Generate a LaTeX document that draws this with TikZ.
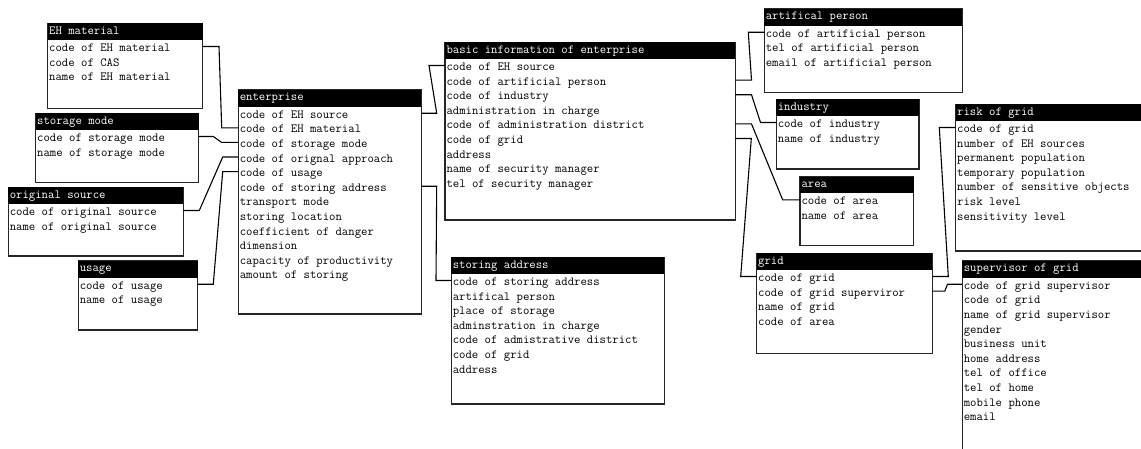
\documentclass[tikz,border=0pt]{standalone}
\usepackage{fontspec}
\usetikzlibrary{calc}
\tikzset{
  ebox/.style={draw=black!85, line width=1.2pt, anchor=north west, inner sep=0pt, outer sep=0pt, fill=white},
  ehead/.style={fill=black, anchor=north west, minimum height=16.5pt, inner sep=0pt, outer sep=0pt},
  etxt/.style={font=\fontsize{12.4}{14}\selectfont\ttfamily\addfontfeatures{FakeBold=0.5}, inner sep=0pt, outer sep=0pt, anchor=west, text height=8pt, text depth=2pt},
  etitle/.style={etxt, text=white},
  erow/.style={etxt, text=black},
  conn/.style={draw=black, line width=1.1pt}
}
\newcommand\entity[7]{%
  \node[ebox, minimum width=#4pt, minimum height=#5pt] (#1) at (#2,#3) {};
  \node[ehead, minimum width=#4pt] (#1-h) at (#1.north west) {};
  \node[etitle] (#1-t) at ([xshift=1.5pt,yshift=0.5pt]#1-h.west) {#6};
  \foreach \r [count=\i] in {#7} {%
    \node[erow] (#1-\i) at ($(#1.north west)+(1.5,25.2+14.6*\i-14.6)$) {\r};
    \coordinate (#1-c\i) at ($(#1-\i.west)+(0,-2)$);}%
}
\begin{document}
\begin{tikzpicture}[x=1pt,y=-1pt]
\useasboundingbox (0,0) rectangle (1141,448);
\fill[white] (0,0) rectangle (1141,448);
\clip (0,0) rectangle (1141,448);

\entity{ehm}{47.7}{23.3}{155}{85}{EH material}{code of EH material,code of CAS,name of EH material}
\entity{sm}{35.7}{113.3}{163}{69}{storage mode}{code of storage mode,name of storage mode}
\entity{os}{8.3}{187.3}{175}{68.7}{original source}{code of original source,name of original source}
\entity{us}{78.3}{261}{119.4}{69}{usage}{code of usage,name of usage}
\entity{ent}{238.3}{90}{183}{224}{enterprise}{code of EH source,code of EH material,code of storage mode,code of orignal approach,code of usage,code of storing address,transport mode,storing location,coefficient of danger,dimension,capacity of productivity,amount of storing}
\entity{bas}{445}{42.3}{290.3}{177.7}{basic information of enterprise}{code of EH source,code of artificial person,code of industry,administration in charge,code of administration district,code of grid,address,name of security manager,tel of security manager}
\entity{sa}{451.3}{257.3}{213}{146.7}{storing address}{code of storing address,artifical person,place of storage,adminstration in charge,code of admistrative district,code of grid,address}
\entity{ap}{764.3}{9}{198}{83.7}{artifical person}{code of artificial person,tel of artificial person,email of artificial person}
\entity{ind}{776.3}{99.3}{142.7}{69.7}{industry}{code of industry,name of industry}
\entity{area}{800}{176.7}{113.7}{69}{area}{code of area,name of area}
\entity{grid}{756.7}{253.3}{175.6}{100}{grid}{code of grid,code of grid superviror,name of grid,code of area}
\entity{risk}{955.7}{104.3}{200}{146.7}{risk of grid}{code of grid,number of EH sources,permanent population,temporary population,number of sensitive objects,risk level,sensitivity level}
\entity{sup}{962.3}{261}{200}{200}{supervisor of grid}{code of grid supervisor,code of grid,name of grid supervisor,gender,business unit,home address,tel of office,tel of home,mobile phone,email}

% left side connectors
\draw[conn] (ehm.east |- ehm-c1) -- ++(16.3,0) -- ($(ent.west |- ent-c2)+(-16.6,0)$) -- (ent.west |- ent-c2);
\draw[conn] (sm.east |- sm-c1) -- ++(14.6,0) -- ($(ent.west |- ent-c3)+(-16.6,0)$) -- (ent.west |- ent-c3);
\draw[conn] (os.east |- os-c1) -- ++(16,0) -- ($(ent.west |- ent-c4)+(-15.6,0)$) -- (ent.west |- ent-c4);
\draw[conn] (us.east |- us-c1) -- ++(15.6,0) -- ($(ent.west |- ent-c5)+(-15.6,0)$) -- (ent.west |- ent-c5);
% enterprise right
\draw[conn] (ent.east |- ent-c1) -- ++(15.4,0) -- ($(bas.west |- bas-c1)+(-16,0)$) -- (bas.west |- bas-c1);
\draw[conn] (ent.east |- ent-c6) -- ++(15.4,0) -- ($(sa.west |- sa-c1)+(-15.3,0)$) -- (sa.west |- sa-c1);
% basic information right
\draw[conn] (bas.east |- bas-c2) -- ++(16.2,0) -- ($(ap.west |- ap-c1)+(-16,0)$) -- (ap.west |- ap-c1);
\draw[conn] (bas.east |- bas-c3) -- ++(16.2,0) -- ($(ind.west |- ind-c1)+(-15.8,0)$) -- (ind.west |- ind-c1);
\draw[conn] (bas.east |- bas-c5) -- ++(16.2,0) -- ($(area.west |- area-c1)+(-17.3,0)$) -- (area.west |- area-c1);
\draw[conn] (bas.east |- bas-c6) -- ++(16,0) -- ($(grid.west |- grid-c1)+(-16,0)$) -- (grid.west |- grid-c1);
% grid right
\draw[conn] (grid.east |- grid-c1) -- ++(16,0) -- ($(risk.west |- risk-c1)+(-16.4,0)$) -- (risk.west |- risk-c1);
\draw[conn] (grid.east |- grid-c2) -- ++(12.5,0) -- ($(sup.west |- sup-c1)+(-14.8,0)$) -- (sup.west |- sup-c1);
\end{tikzpicture}
\end{document}
